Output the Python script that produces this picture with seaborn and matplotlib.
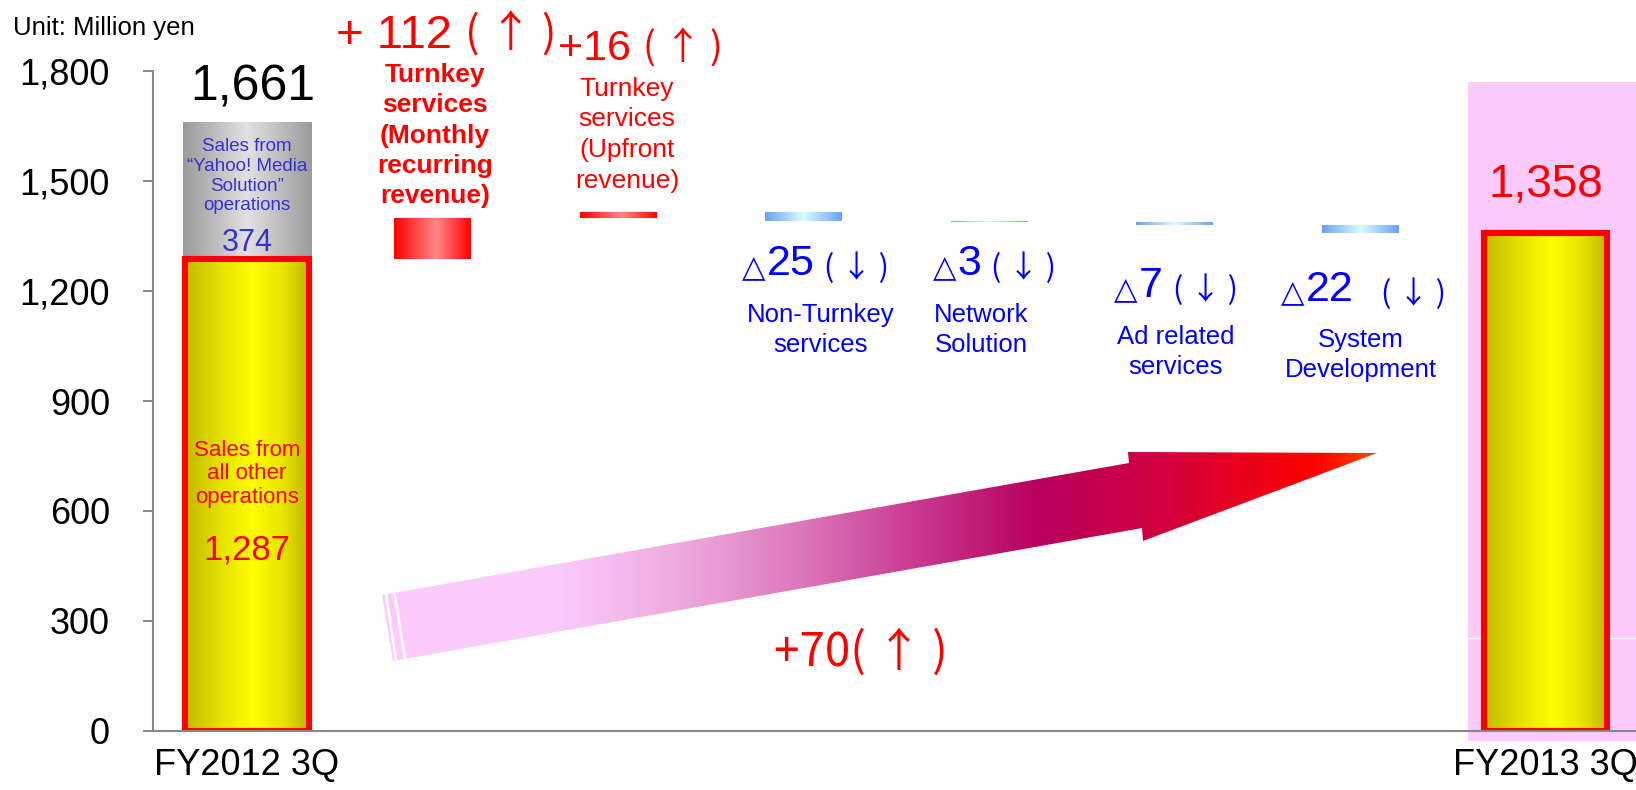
import numpy as np
import matplotlib
matplotlib.use("Agg")
import matplotlib.pyplot as plt
from matplotlib.colors import LinearSegmentedColormap
from matplotlib.patches import Polygon, Rectangle
from matplotlib.ticker import FixedLocator, StrMethodFormatter
import seaborn as sns

# ---- data (million yen) ----
periods = ["FY2012 3Q", "FY2013 3Q"]
step_names = [
    "Turnkey services (Monthly recurring revenue)",
    "Turnkey services (Upfront revenue)",
    "Non-Turnkey services",
    "Network Solution",
    "Ad related services",
    "System Development",
]
step_labels = [
    "Turnkey\nservices\n(Monthly\nrecurring\nrevenue)",
    "Turnkey\nservices\n(Upfront\nrevenue)",
    "Non-Turnkey\nservices",
    "Network\nSolution",
    "Ad related\nservices",
    "System\nDevelopment",
]
step_changes = [112, 16, -25, -3, -7, -22]

other_sales_2012 = 1287      # sales from all other operations
yahoo_sales_2012 = 374       # sales from "Yahoo! Media Solution" operations
total_2012 = 1661
total_2013 = 1358
other_growth = 70

yticks = [0, 300, 600, 900, 1200, 1500, 1800]

# ---- style ----
sns.set_style("white")
plt.rcParams["font.family"] = ["Liberation Sans", "DejaVu Sans", "Noto Sans CJK JP"]
CJK = ["Noto Sans CJK JP", "DejaVu Sans"]

RED = "#ff0000"
BLUE = "#0000ff"
SLATE = "#3333cc"
AXIS_GREY = "#888888"

YELLOW_STOPS = [(0.0, "#c0ba00"), (0.28, "#e4e000"), (0.55, "#ffff00"),
                (0.8, "#e6e200"), (1.0, "#bdb700")]
GREY_STOPS = [(0.0, "#9a9a9a"), (0.5, "#e2e2e2"), (1.0, "#9a9a9a")]
RED_STOPS = [(0.0, "#ff0000"), (0.55, "#ff8888"), (1.0, "#ff0000")]
BLUE_STOPS = [(0.0, "#6aa2f6"), (0.5, "#dafcff"), (1.0, "#6aa2f6")]
ARROW_STOPS = [(0.0, "#fccbfc"), (0.17, "#fccbfc"), (0.30, "#eeaadd"),
               (0.42, "#dc78bc"), (0.54, "#c83890"), (0.66, "#b8005e"),
               (0.78, "#d00040"), (0.88, "#ec0018"), (0.94, "#ff0000"),
               (1.0, "#ff4400")]

categories = [periods[0]] + step_names + [periods[1]]
idx = {c: i for i, c in enumerate(categories)}

step_ends = other_sales_2012 + np.cumsum(step_changes)
step_starts = np.concatenate([[other_sales_2012], step_ends[:-1]])
step_bottoms = np.minimum(step_starts, step_ends)
step_heights = np.abs(step_changes)

fig = plt.figure(figsize=(16.36, 7.90), dpi=100)
ax = fig.add_axes([0.0935, 0.0747, 0.9065, 0.8354])


def new_bars(draw):
    n0 = len(ax.patches)
    draw()
    return list(ax.patches[n0:])


def gradient_fill(patch, stops, zorder):
    x0, y0 = patch.get_x(), patch.get_y()
    w, h = patch.get_width(), patch.get_height()
    cmap = LinearSegmentedColormap.from_list("fill", stops)
    img = ax.imshow(np.linspace(0, 1, 256)[None, :], cmap=cmap, aspect="auto",
                    extent=(x0, x0 + w, y0, y0 + h), origin="lower",
                    interpolation="bilinear", zorder=zorder)
    img.set_clip_path(patch)


def chain_text(x, y, pieces, color):
    """Write text pieces one after another, starting at (x, y) baseline."""
    first, kw0 = pieces[0]
    prev = ax.text(x, y, first, color=color, ha="left", va="baseline", **kw0)
    for txt, kw in pieces[1:]:
        kw = dict(kw)
        off = kw.pop("offset", (0, 0))
        prev = ax.annotate(txt, xy=(1, 0), xycoords=prev, xytext=off,
                           textcoords="offset points", color=color,
                           ha="left", va="bottom", **kw)
    return prev


# highlight panel behind the FY2013 bar
last = idx[periods[1]]
ax.add_patch(Rectangle((last - 0.418, -27), 0.95, 1797, facecolor="#fccbfc",
                       edgecolor="none", zorder=0.3, clip_on=False))
ax.plot([last - 0.418, last + 0.53], [254, 254], color="white", lw=1,
        zorder=0.4, clip_on=False)

# "Yahoo! Media Solution" part of FY2012, stacked on the other sales
grey_bar = new_bars(lambda: sns.barplot(
    x=[periods[0]], y=[yahoo_sales_2012], bottom=[other_sales_2012],
    order=categories, width=0.695, color="#cccccc", saturation=1,
    errorbar=None, linewidth=0, ax=ax))

# totals: other sales FY2012 and all sales FY2013
total_bars = new_bars(lambda: sns.barplot(
    x=periods, y=[other_sales_2012, total_2013], order=categories,
    width=0.668, color="#ffff00", saturation=1, errorbar=None,
    edgecolor=RED, linewidth=4.4, ax=ax))

# floating bridge steps
step_bars = new_bars(lambda: sns.barplot(
    x=step_names, y=step_heights, bottom=step_bottoms, order=categories,
    width=0.41, color="#ff8888", saturation=1, errorbar=None,
    linewidth=0, ax=ax))

for p in grey_bar:
    gradient_fill(p, GREY_STOPS, 1.0)
for p in total_bars:
    gradient_fill(p, YELLOW_STOPS, 1.0)
for p, ch in zip(step_bars, step_changes):
    gradient_fill(p, RED_STOPS if ch > 0 else BLUE_STOPS, 1.0)
for p in grey_bar + total_bars + step_bars:
    p.set_facecolor("none")
    p.set_zorder(1.5)

# growth arrow for the other operations
arrow_outline = [(0.728, 370.9), (4.755, 730.9), (4.749, 760.9), (6.092, 758.2),
                 (4.830, 518.2), (4.825, 553.6), (0.787, 190.9)]
arrow = Polygon(arrow_outline, closed=True, facecolor="none", edgecolor="none",
                zorder=1.2)
ax.add_patch(arrow)
ax_xs = [p[0] for p in arrow_outline]
ax_ys = [p[1] for p in arrow_outline]
cmap_arrow = LinearSegmentedColormap.from_list("arrow", ARROW_STOPS)
arrow_img = ax.imshow(np.linspace(0, 1, 512)[None, :], cmap=cmap_arrow,
                      aspect="auto", origin="lower", interpolation="bilinear",
                      extent=(min(ax_xs), max(ax_xs), min(ax_ys), max(ax_ys)),
                      zorder=1.2)
arrow_img.set_clip_path(arrow)
for (xa, ya), (xb, yb) in [((0.749, 373.6), (0.803, 193.6)),
                           ((0.795, 376.4), (0.852, 196.4))]:
    ax.plot([xa, xb], [ya, yb], color="white", lw=1.8, zorder=1.3,
            solid_capstyle="butt")

# ---- axes ----
ax.set_xlim(-0.507, 7.488)
ax.set_ylim(0, 1800)
ax.yaxis.set_major_locator(FixedLocator(yticks))
ax.yaxis.set_major_formatter(StrMethodFormatter("{x:,.0f}"))
ax.set_xticks(range(len(categories)))
ax.set_xticklabels([periods[0]] + [""] * len(step_names) + [periods[1]])
ax.set_xlabel("")
ax.set_ylabel("")
ax.tick_params(axis="y", direction="out", length=7, width=1.4, color=AXIS_GREY,
               pad=24, labelsize=26, labelcolor="black", left=True)
ax.tick_params(axis="x", length=0, pad=12, labelsize=26, labelcolor="black")
for side in ("top", "right"):
    ax.spines[side].set_visible(False)
for side in ("left", "bottom"):
    ax.spines[side].set_color(AXIS_GREY)
    ax.spines[side].set_linewidth(1.5)
    ax.spines[side].set_zorder(2.5)
ax.grid(False)

fig.text(0.008, 0.965, "Unit: Million yen", fontsize=18.5, va="center",
         ha="left", color="black")

# ---- labels on the FY2012 bar ----
i0 = idx[periods[0]]
ax.text(i0 + 0.03, 1756, f"{total_2012:,}", fontsize=36, ha="center",
        va="center", color="black")
ax.text(i0, 1513, "Sales from\n\u201cYahoo! Media\nSolution\u201d\noperations",
        fontsize=13.5, ha="center", va="center", color=SLATE, linespacing=1.2)
ax.text(i0, 1331, f"{yahoo_sales_2012}", fontsize=22, ha="center",
        va="center", color=SLATE)
ax.text(i0, 701, "Sales from\nall other\noperations", fontsize=16,
        ha="center", va="center", color=RED, linespacing=1.15)
ax.text(i0, 494, f"{other_sales_2012:,}", fontsize=25, ha="center",
        va="center", color=RED)

# ---- labels on the FY2013 bar ----
ax.text(last, 1488, f"{total_2013:,}", fontsize=33, ha="center", va="center",
        color=RED)
ax.text(3.31, 215, f"+{other_growth}( \u2191 )", fontsize=33, ha="center",
        va="center", color=RED, family=CJK)

# ---- increase labels ----
i1 = idx[step_names[0]]
i2 = idx[step_names[1]]
chain_text(i1 - 0.520, 1863, [(f"+ {step_changes[0]} ", dict(fontsize=34)),
                              ("( \u2191 )", dict(fontsize=31, family=CJK))],
           RED)
chain_text(i2 - 0.323, 1830, [(f"+{step_changes[1]} ", dict(fontsize=31)),
                              ("( \u2191 )", dict(fontsize=27, family=CJK))],
           RED)
ax.text(i1 + 0.013, 1624, step_labels[0], fontsize=19, fontweight="bold",
        ha="center", va="center", color=RED, linespacing=1.33)
ax.text(i2 + 0.048, 1626, step_labels[1], fontsize=19, ha="center",
        va="center", color=RED, linespacing=1.35)

# ---- decrease labels ----
delta_places = [(-0.332, 1240, 7), (-0.302, 1240, 7), (-0.326, 1180, 7),
                (-0.426, 1171, 20)]
name_places = [(0.094, 1094), (-0.043, 1094), (0.008, 1034), (0.005, 1026)]
for k in range(2, 6):
    i = idx[step_names[k]]
    dx, base, gap = delta_places[k - 2]
    chain_text(i + dx, base,
               [("△", dict(fontsize=22, family=["DejaVu Sans"])),
                (f"{abs(step_changes[k])}", dict(fontsize=31, offset=(1, -1.5))),
                ("( \u2193 )", dict(fontsize=22, family=CJK, offset=(gap, 0)))],
               BLUE)
    nx, ny = name_places[k - 2]
    ax.text(i + nx, ny, step_labels[k], fontsize=18.5, ha="center",
            va="center", color=BLUE, linespacing=1.3)

fig.savefig("out.png", dpi=100)
